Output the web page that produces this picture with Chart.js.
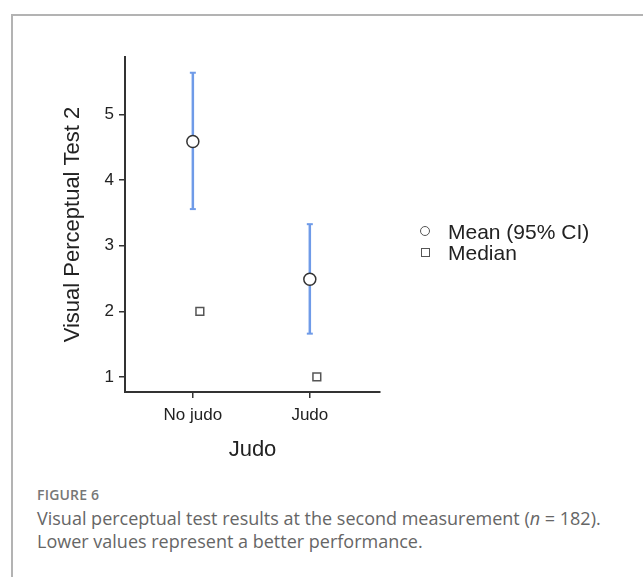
<!DOCTYPE html>
<html>
<head>
<meta charset="utf-8">
<script src="https://cdn.jsdelivr.net/npm/chart.js@4.4.1/dist/chart.umd.min.js"></script>
<style>
  html, body { margin: 0; padding: 0; background: #fff; }
  body { width: 643px; height: 577px; position: relative; overflow: hidden; }
  .frame {
    position: absolute; left: 11px; top: 14px; width: 640px; height: 580px;
    border-left: 2px solid #b3b3b3; border-top: 2px solid #b3b3b3;
  }
  #wrap { position: absolute; left: 0; top: 0; width: 643px; height: 470px; }
  .legend {
    position: absolute; left: 420px; top: 221px;
    font-family: "Liberation Sans", Arial, sans-serif; font-size: 21px; color: #222;
  }
  .legend div { height: 21px; line-height: 21px; position: relative; padding-left: 28px; }
  .legend .c { position: absolute; left: 0px; top: 5px; width: 8px; height: 8px; border: 1.3px solid #555; border-radius: 50%; }
  .legend .s { position: absolute; left: 1px; top: 6px; width: 7px; height: 7px; border: 1.3px solid #555; }
  .caption {
    position: absolute; left: 37px; top: 485px;
    font-family: "Open Sans", sans-serif; color: #666;
  }
  .caption .fig { font-size: 14px; font-weight: 600; color: #777; letter-spacing: 0.2px; }
  .caption .txt { font-size: 18px; line-height: 23px; margin-top: 3px; font-weight: 400; }
</style>
</head>
<body>
<div class="frame"></div>
<div id="wrap"><canvas id="chart"></canvas></div>
<div class="legend">
  <div><span class="c"></span>Mean (95% CI)</div>
  <div><span class="s"></span>Median</div>
</div>
<div class="caption">
  <div class="fig">FIGURE 6</div>
  <div class="txt">Visual perceptual test results at the second measurement (<i>n</i> = 182).<br>Lower values represent a better performance.</div>
</div>
<script>
const groups = ['No judo', 'Judo'];
const means = [4.59, 2.49];
const ciLow = [3.56, 1.66];
const ciHigh = [5.64, 3.33];
const medians = [2, 1];
const yTicks = [1, 2, 3, 4, 5];

const medianShift = 0.06;
const ink = '#333';
const family = "'Liberation Sans', Arial, Helvetica, sans-serif";

const ciPoints = [];
groups.forEach((g, i) => {
  ciPoints.push({ x: i + 1, y: ciLow[i] }, { x: i + 1, y: ciHigh[i] }, { x: i + 1, y: null });
});

new Chart(document.getElementById('chart'), {
  type: 'scatter',
  data: {
    datasets: [
      {
        label: 'CI',
        type: 'line',
        order: 3,
        data: ciPoints,
        borderColor: '#6f9be8',
        borderWidth: 2.5,
        pointStyle: 'line',
        pointRadius: 3,
        pointBorderColor: '#6f9be8',
        pointBorderWidth: 2,
        spanGaps: false
      },
      {
        label: 'Mean (95% CI)',
        order: 1,
        data: means.map((v, i) => ({ x: i + 1, y: v })),
        pointStyle: 'circle',
        pointRadius: 6,
        backgroundColor: '#fff',
        borderColor: ink,
        borderWidth: 1.5
      },
      {
        label: 'Median',
        order: 2,
        data: medians.map((v, i) => ({ x: i + 1 + medianShift, y: v })),
        pointStyle: 'rect',
        pointRadius: 5.5,
        backgroundColor: '#fff',
        borderColor: '#555',
        borderWidth: 1.5
      }
    ]
  },
  options: {
    responsive: true,
    maintainAspectRatio: false,
    animation: false,
    events: [],
    layout: { padding: { left: 58, right: 263, top: 57, bottom: 0 } },
    plugins: { legend: { display: false }, tooltip: { enabled: false } },
    scales: {
      x: {
        type: 'linear',
        min: 0.42,
        max: 2.6,
        afterBuildTicks: s => { s.ticks = groups.map((g, i) => ({ value: i + 1 })); },
        afterFit: s => { s.height = 78; },
        ticks: {
          callback: v => groups[v - 1],
          color: '#222',
          font: { family: family, size: 17 },
          padding: 7,
          minRotation: 0,
          maxRotation: 0
        },
        grid: { drawOnChartArea: false, drawTicks: true, tickLength: 6, color: ink, lineWidth: 1.5 },
        border: { color: ink, width: 2 },
        title: {
          display: true,
          text: 'Judo',
          color: '#222',
          font: { family: family, size: 22 },
          padding: { top: 4, bottom: 7 }
        }
      },
      y: {
        min: 0.77,
        max: 5.88,
        afterBuildTicks: s => { s.ticks = yTicks.map(v => ({ value: v })); },
        afterFit: s => { s.width = 67; },
        ticks: {
          color: '#222',
          font: { family: family, size: 17 },
          padding: 5,
          minRotation: 0,
          maxRotation: 0
        },
        grid: { drawOnChartArea: false, drawTicks: true, tickLength: 6, color: ink, lineWidth: 1.5 },
        border: { color: ink, width: 2 },
        title: {
          display: true,
          text: 'Visual Perceptual Test 2',
          color: '#222',
          font: { family: family, size: 22 },
          padding: { top: 2, bottom: 4 }
        }
      }
    }
  }
});
</script>
</body>
</html>
